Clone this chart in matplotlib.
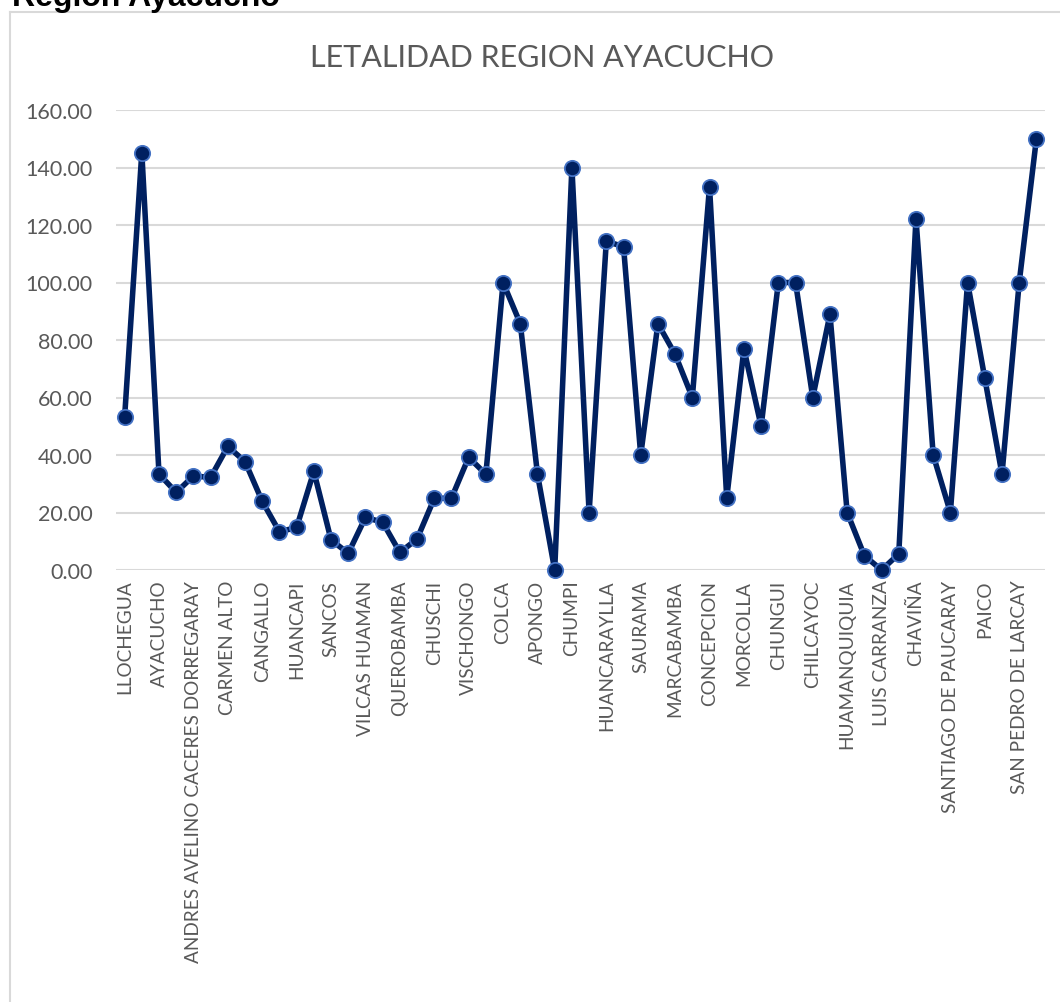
import matplotlib
matplotlib.use("Agg")
import matplotlib.pyplot as plt
from matplotlib.lines import Line2D

districts = [
    "LLOCHEGUA", "SIVIA", "AYACUCHO", "SAN JUAN BAUTISTA",
    "ANDRES AVELINO CACERES DORREGARAY", "JESUS NAZARENO", "CARMEN ALTO", "HUANTA",
    "CANGALLO", "SAN MIGUEL", "HUANCAPI", "PUQUIO",
    "SANCOS", "CORACORA", "VILCAS HUAMAN", "PAUSA",
    "QUEROBAMBA", "SAN FRANCISCO", "CHUSCHI", "TAMBO",
    "VISCHONGO", "QUINUA", "COLCA", "HUAMBALPA",
    "APONGO", "CANARIA", "CHUMPI", "PULLO",
    "HUANCARAYLLA", "HUAYA", "SAURAMA", "ACOCRO",
    "MARCABAMBA", "TOTOS", "CONCEPCION", "SOCOS",
    "MORCOLLA", "CHIARA", "CHUNGUI", "ANCO",
    "CHILCAYOC", "BELEN", "HUAMANQUIQUIA", "OCROS",
    "LUIS CARRANZA", "SANTA ROSA", "CHAVIÑA", "SARHUA",
    "SANTIAGO DE PAUCARAY", "CARAPO", "PAICO", "LARAMATE",
    "SAN PEDRO DE LARCAY", "SAN PEDRO DE PALCO",
]
letalidad = [
    53.1, 145.2, 33.4, 27.0, 32.7, 32.2, 43.0, 37.7, 23.9, 13.3,
    14.8, 34.3, 10.5, 5.8, 18.3, 16.6, 6.1, 10.8, 24.9, 25.0,
    39.2, 33.3, 100.0, 85.7, 33.3, 0.0, 140.0, 20.0, 114.3, 112.5,
    40.0, 85.7, 75.0, 60.0, 133.3, 25.0, 76.9, 50.0, 100.0, 100.0,
    60.0, 88.9, 20.0, 5.0, 0.0, 5.6, 122.2, 40.0, 20.0, 100.0,
    66.7, 33.3, 100.0, 150.0,
]
yticks = [0, 20, 40, 60, 80, 100, 120, 140, 160]
title = "LETALIDAD REGION AYACUCHO"
header = "Región Ayacucho"

plt.rcParams["font.family"] = ["Lato", "DejaVu Sans"]
W, H = 1060, 1003
fig = plt.figure(figsize=(W / 100, H / 100), dpi=100)

# chart area border (left and top edges visible)
border = "#d9d9d9"
fig.add_artist(Line2D([10 / W, 10 / W], [0, 1 - 13 / H], color=border, lw=1.5, transform=fig.transFigure))
fig.add_artist(Line2D([10 / W, 1], [1 - 13 / H, 1 - 13 / H], color=border, lw=1.5, transform=fig.transFigure))

fig.text(12 / W, 1 - 6 / H, header, fontsize=23, fontweight="bold",
         family=["Liberation Sans", "DejaVu Sans"], color="black", ha="left", va="baseline")

ax = fig.add_axes([116 / W, 1 - 571 / H, (1045 - 116) / W, (571 - 111) / H])
x = list(range(len(letalidad)))
ax.plot(x, letalidad, color="#002060", lw=4.0, marker="o", markersize=11,
        markerfacecolor="#002060", markeredgecolor="#4472C4", markeredgewidth=1.3,
        solid_joinstyle="round", zorder=3, clip_on=False)

ax.set_xlim(-0.5, len(letalidad) - 0.5)
ax.set_ylim(0, 160)
ax.set_yticks(yticks)
ax.set_yticklabels([f"{v:.2f}" for v in yticks], fontsize=15.5, color="#595959")
ax.set_xticks(x[::2])
ax.set_xticklabels(districts[::2], rotation=90, fontsize=13.7, color="#595959")
ax.tick_params(axis="both", length=0)
ax.tick_params(axis="y", pad=17)
ax.tick_params(axis="x", pad=7)
ax.grid(axis="y", color="#d9d9d9", lw=1.5)
ax.set_axisbelow(True)
for s in ax.spines.values():
    s.set_visible(False)

fig.text(542 / W, 1 - 58 / H, title, fontsize=22, color="#595959", ha="center", va="center")

fig.savefig("out.png", dpi=100, facecolor="white")
